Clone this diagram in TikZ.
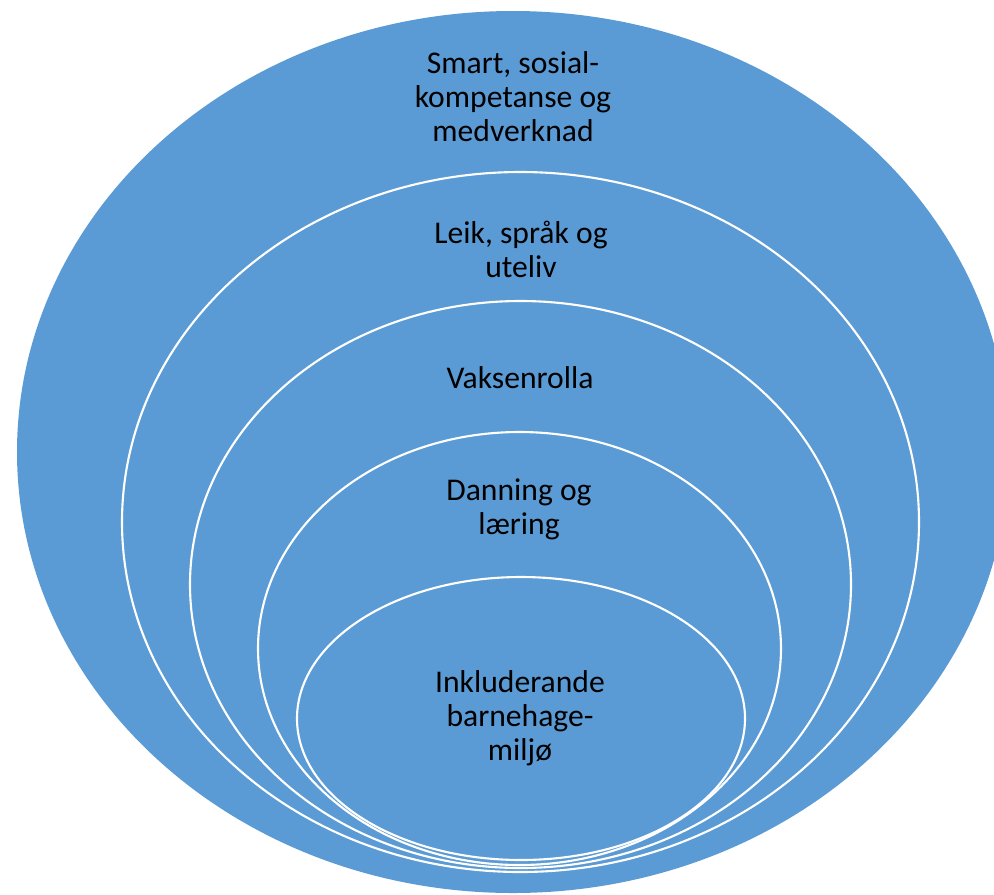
\documentclass[tikz,border=0pt]{standalone}
\usepackage{fontspec}
\setmainfont{Carlito}
\definecolor{ringblue}{HTML}{5B9BD5}
\begin{document}
\begin{tikzpicture}[x=0.02cm, y=-0.02cm, line join=round, line cap=round,
		ring/.style={fill=ringblue, draw=white, line width=1.2pt},
		lbl/.style={align=center, font=\fontsize{18}{19.3}\selectfont, inner sep=0pt, anchor=base}]
	\useasboundingbox (0,0) rectangle (994,894);
	\clip (0,0) rectangle (994,894);
	% ringane, frå ytst til inst
	\fill[ringblue] (513,452) ellipse [x radius=496, y radius=441];
	\draw[ring] (520.5,522) ellipse [x radius=398.5, y radius=350];
	\draw[ring] (520.5,584.5) ellipse [x radius=330.5, y radius=283.5];
	\draw[ring] (519.5,648.5) ellipse [x radius=261.5, y radius=216.5];
	\draw[ring] (521,718.5) ellipse [x radius=224, y radius=141.5];
	% tekst (base = siste linja)
	\node[lbl] (smartlbl) at (513,141) {Smart, sosial-\\kompetanse og\\medverknad};
	\node[lbl] (leiklbl) at (521,277) {Leik, språk og\\uteliv};
	\node[lbl] (vaksenlbl) at (520,388) {Vaksenrolla};
	\node[lbl] (danninglbl) at (519,534) {Danning og\\læring};
	\node[lbl] (inklbl) at (520,760) {Inkluderande\\barnehage-\\miljø};
\end{tikzpicture}
\end{document}
